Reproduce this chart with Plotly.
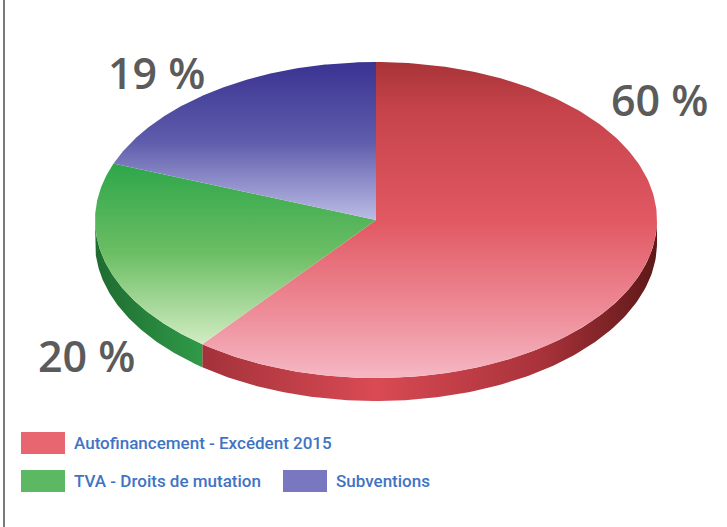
import numpy as np
import plotly.graph_objects as go

# ---------------- data ----------------
categories = ["Autofinancement - Excédent 2015", "TVA - Droits de mutation", "Subventions"]
values = [60, 20, 19]
pct_labels = ["60 %", "20 %", "19 %"]

# ---------------- styles ----------------
# colourscale 0 = bottom of the face on screen, 1 = top
TOP_SCALES = [
    [[0, "#f5b8c4"], [0.2, "#ee8e9a"], [0.5, "#e15862"], [0.85, "#c6434b"], [1, "#a83438"]],
    [[0, "#d2ecc2"], [0.5, "#6cbe64"], [1, "#2ea64a"]],
    [[0, "#bcbce6"], [0.5, "#5e5cab"], [1, "#3a3392"]],
]
SIDE_SCALES = [
    [[0, "#a3323a"], [0.38, "#d94a54"], [0.75, "#a8323a"], [1, "#5e1818"]],
    [[0, "#1f6b30"], [1, "#2f9a48"]],
    [[0, "#2a2870"], [1, "#2a2870"]],
]
LEGEND_COLORS = ["#e86670", "#5cb863", "#7877c0"]

W, H = 727, 527
CX, CY = 376, 220      # pie centre (px)
RX, RY = 281, 158      # ellipse radii (px)
DEPTH = 23             # 3-D thickness (px)

fig = go.Figure()

total = float(sum(values))
bounds = np.concatenate([[0.0], np.cumsum(values) / total * 2 * np.pi])


def ex(t):
    return CX + RX * np.sin(t)


def ey(t):
    return CY - RY * np.cos(t)


# sides (front half only: pi/2 .. 3pi/2)
for i, v in enumerate(values):
    a0, a1 = bounds[i], bounds[i + 1]
    s0, s1 = max(a0, np.pi / 2), min(a1, 3 * np.pi / 2)
    if s1 <= s0:
        continue
    t = np.linspace(s0, s1, 120)
    xs = np.concatenate([ex(t), ex(t[::-1])])
    ys = np.concatenate([ey(t), ey(t[::-1]) + DEPTH])
    fig.add_trace(go.Scatter(
        x=np.append(xs, xs[0]), y=np.append(ys, ys[0]), mode="lines",
        fill="toself", line=dict(width=0),
        fillgradient=dict(type="horizontal", colorscale=SIDE_SCALES[i]),
        hoverinfo="skip", showlegend=False))

# top faces
for i, v in enumerate(values):
    a0, a1 = bounds[i], bounds[i + 1]
    t = np.linspace(a0, a1, 200)
    xs = np.concatenate([[CX], ex(t), [CX]])
    ys = np.concatenate([[CY], ey(t), [CY]])
    fig.add_trace(go.Scatter(
        x=xs, y=ys, mode="lines", fill="toself", line=dict(width=0),
        fillgradient=dict(type="vertical", colorscale=TOP_SCALES[i]),
        name=categories[i], hoverinfo="name", showlegend=False))

# percentage labels
label_pos = [(660, 99), (87, 355), (157, 72)]
for lab, (lx, ly) in zip(pct_labels, label_pos):
    fig.add_annotation(x=lx, y=ly, xref="x", yref="y", text=lab, showarrow=False,
                       font=dict(family="Open Sans", size=43, color="#5b5b5b", weight=600),
                       xanchor="center", yanchor="middle")

# legend (swatches + text)
leg_pos = [(21, 443), (21, 481), (283, 481)]
for i, (lx, ly) in enumerate(leg_pos):
    fig.add_shape(type="rect", xref="x", yref="y", x0=lx, x1=lx + 44, y0=ly - 11, y1=ly + 11,
                  fillcolor=LEGEND_COLORS[i], line=dict(width=0))
    fig.add_annotation(x=lx + 51, y=ly, xref="x", yref="y", text=categories[i], showarrow=False,
                       font=dict(family="Roboto", size=17, color="#3f74c4", weight=500),
                       xanchor="left", yanchor="middle")

# frame line on the left
fig.add_shape(type="line", xref="x", yref="y", x0=4, x1=4, y0=0, y1=H,
              line=dict(color="#7a7a7a", width=2))

fig.update_layout(
    width=W, height=H, margin=dict(l=0, r=0, t=0, b=0),
    paper_bgcolor="white", plot_bgcolor="white",
    xaxis=dict(range=[0, W], visible=False, fixedrange=True),
    yaxis=dict(range=[H, 0], visible=False, fixedrange=True),
    showlegend=False,
)

fig.write_html(
    "out.html",
    config={"displayModeBar": False},
    post_script="document.body.style.margin='0';document.body.style.overflow='hidden';",
)
